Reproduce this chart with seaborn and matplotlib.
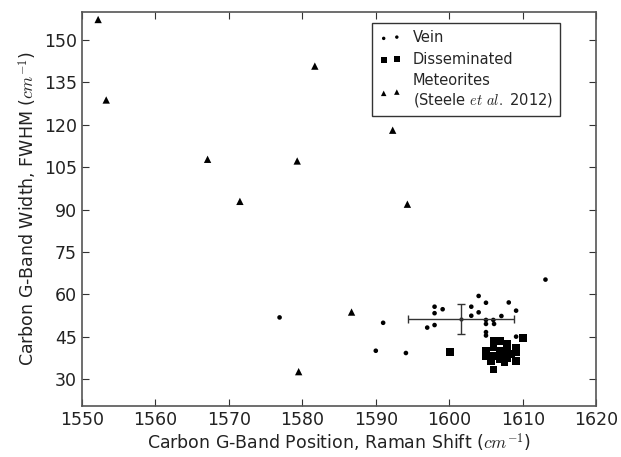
import matplotlib
matplotlib.use("Agg")
import matplotlib.pyplot as plt
import seaborn as sns

# Vein samples
vein_x = [1576.9, 1591.0, 1590.0, 1594.1, 1597.0, 1598.0, 1598.0, 1598.0, 1599.1,
          1603.0, 1603.0, 1604.0, 1604.0, 1605.0, 1608.1, 1609.1, 1607.1, 1606.0,
          1605.0, 1605.0, 1606.1, 1605.0, 1605.0, 1609.1, 1613.1]
vein_y = [51.8, 49.9, 40.0, 39.2, 48.2, 49.1, 53.3, 55.6, 54.7,
          55.6, 52.4, 53.6, 59.4, 57.0, 57.1, 54.2, 52.3, 50.9,
          50.9, 49.5, 49.5, 46.6, 45.4, 45.0, 65.2]

# Disseminated samples
diss_x = [1600.1, 1610.0, 1606.0, 1606.9, 1607.9, 1605.0, 1605.0, 1606.0, 1606.0,
          1606.9, 1606.9, 1607.9, 1607.9, 1609.1, 1609.1, 1605.7, 1609.1, 1606.0,
          1607.5, 1608.5]
diss_y = [39.5, 44.6, 43.5, 43.5, 42.3, 39.9, 38.1, 41.1, 38.1,
          39.9, 37.0, 39.9, 37.5, 41.1, 39.6, 36.4, 36.4, 33.4,
          36.1, 38.8]

# Meteorites (Steele et al. 2012)
met_x = [1552.2, 1553.3, 1567.1, 1571.5, 1579.3, 1581.7, 1592.3, 1594.3, 1586.7, 1579.5]
met_y = [157.3, 128.8, 107.8, 92.9, 107.2, 140.8, 118.1, 91.9, 53.7, 32.6]

# mean +/- spread marker
err_x, err_y = 1601.6, 51.1
err_dx, err_dy = 7.2, 5.3

x_ticks = [1550, 1560, 1570, 1580, 1590, 1600, 1610, 1620]
y_ticks = [30, 45, 60, 75, 90, 105, 120, 135, 150]

sns.set_style("ticks")
plt.rcParams['font.family'] = ['DejaVu Sans']
plt.rcParams['mathtext.fontset'] = 'cm'

fig = plt.figure(figsize=(6.21, 4.57), dpi=100)
ax = fig.add_axes([0.132, 0.112, 0.828, 0.862])

sns.scatterplot(x=vein_x, y=vein_y, marker='o', color='k', s=11, edgecolor='none',
                label='Vein', ax=ax)
sns.scatterplot(x=diss_x, y=diss_y, marker='s', color='k', s=30, edgecolor='none',
                label='Disseminated', ax=ax)
sns.scatterplot(x=met_x, y=met_y, marker='^', color='k', s=28, edgecolor='none',
                label='Meteorites\n(Steele $et$ $al.$ 2012)', ax=ax)
ax.errorbar(err_x, err_y, xerr=err_dx, yerr=err_dy, fmt='.', color='#333333',
            ms=4, lw=1, capsize=3, zorder=1)

ax.set_xlim(1550, 1620)
ax.set_ylim(20.5, 160)
ax.set_xticks(x_ticks)
ax.set_yticks(y_ticks)
ax.tick_params(direction='in', top=True, right=True, length=5, labelsize=12.5,
               colors='#333333', labelcolor='#222222')
for s in ax.spines.values():
    s.set_color('#555555')
    s.set_linewidth(1.2)

ax.set_xlabel('Carbon G-Band Position, Raman Shift ($cm^{-1}$)', fontsize=12.5,
              color='#222222', labelpad=2)
ax.set_ylabel('Carbon G-Band Width, FWHM ($cm^{-1}$)', fontsize=12.5,
              color='#222222', labelpad=4)

leg = ax.legend(loc='upper right', bbox_to_anchor=(0.93, 0.972), borderaxespad=0,
                scatterpoints=2, markerscale=0.75, fontsize=10.5, fancybox=False,
                framealpha=1, edgecolor='#333333', handlelength=1.5,
                handletextpad=0.8, labelspacing=0.45, borderpad=0.5)
leg.get_frame().set_linewidth(1.0)

fig.savefig('out.png', dpi=100)
